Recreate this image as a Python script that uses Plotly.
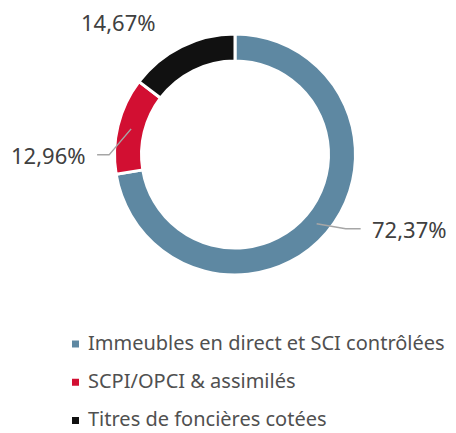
import math
import plotly.graph_objects as go

# ---- data ----
categories = ["Immeubles en direct et SCI contrôlées", "SCPI/OPCI & assimilés", "Titres de foncières cotées"]
values = [72.37, 12.96, 14.67]
value_labels = ["72,37%", "12,96%", "14,67%"]

# ---- style ----
colors = ["#5E88A2", "#D20F32", "#111111"]
W, H = 456, 433
CX, CY, R_OUT = 235, 154.5, 120.5
HOLE = 0.776
FONT = "Noto Sans"
LABEL_COLOR = "#404040"
LEGEND_COLOR = "#505050"
LINE_COLOR = "#A6A6A6"
# label placement relative to the ring mid point (pixels): elbow offset, end offset, text anchor
label_style = [
    dict(elbow=(29, 5), end=(44, 5), anchor="left", show_line=True),
    dict(elbow=(-22, 26), end=(-34, 26), anchor="right", show_line=True),
    dict(elbow=None, end=(-29, -37), anchor="right", show_line=False),
]


def px(x):
    return x / W


def py(y):
    return 1 - y / H


fig = go.Figure()
fig.add_trace(go.Pie(
    labels=categories,
    values=values,
    sort=False,
    direction="clockwise",
    rotation=0,
    hole=HOLE,
    textinfo="none",
    hoverinfo="label+percent",
    showlegend=False,
    marker=dict(colors=colors, line=dict(color="white", width=3)),
    domain=dict(x=[px(CX - R_OUT), px(CX + R_OUT)], y=[py(CY + R_OUT), py(CY - R_OUT)]),
))

shapes = []
annotations = []
total = sum(values)
cum = 0.0
r_mid = R_OUT * (1 + HOLE) / 2
for i, v in enumerate(values):
    mid = (cum + v / 2) / total * 2 * math.pi
    cum += v
    sx = CX + r_mid * math.sin(mid)
    sy = CY - r_mid * math.cos(mid)
    st = label_style[i]
    ex, ey = sx + st["end"][0], sy + st["end"][1]
    if st["show_line"]:
        bx, by = sx + st["elbow"][0], sy + st["elbow"][1]
        path = f"M {px(sx)},{py(sy)} L {px(bx)},{py(by)} L {px(ex)},{py(ey)}"
        shapes.append(dict(type="path", xref="paper", yref="paper", path=path,
                           line=dict(color=LINE_COLOR, width=1.5)))
        tx = ex + (9 if st["anchor"] == "left" else -9)
    else:
        tx = ex
    annotations.append(dict(
        x=px(tx), y=py(ey), xref="paper", yref="paper", text=value_labels[i],
        showarrow=False, xanchor=st["anchor"], yanchor="middle",
        font=dict(family=FONT, size=22, color=LABEL_COLOR),
    ))

# ---- legend (drawn from categories / colors) ----
LEG_X_MARK, LEG_X_TEXT, LEG_Y0, LEG_DY, MS = 75.5, 86, 342, 38.25, 7
for i, (cat, col) in enumerate(zip(categories, colors)):
    y = LEG_Y0 + i * LEG_DY
    shapes.append(dict(type="rect", xref="paper", yref="paper",
                       x0=px(LEG_X_MARK - MS / 2), x1=px(LEG_X_MARK + MS / 2),
                       y0=py(y + 2 + MS / 2), y1=py(y + 2 - MS / 2),
                       fillcolor=col, line=dict(width=0)))
    annotations.append(dict(
        x=px(LEG_X_TEXT), y=py(y), xref="paper", yref="paper", text=cat,
        showarrow=False, xanchor="left", yanchor="middle",
        font=dict(family=FONT, size=20, color=LEGEND_COLOR),
    ))

fig.update_layout(
    width=W, height=H,
    margin=dict(l=0, r=0, t=0, b=0),
    paper_bgcolor="white", plot_bgcolor="white",
    shapes=shapes, annotations=annotations,
    showlegend=False,
)
fig.write_html(
    "out.html",
    config={"displayModeBar": False},
    post_script="document.body.style.margin='0';document.body.style.padding='0';",
)
